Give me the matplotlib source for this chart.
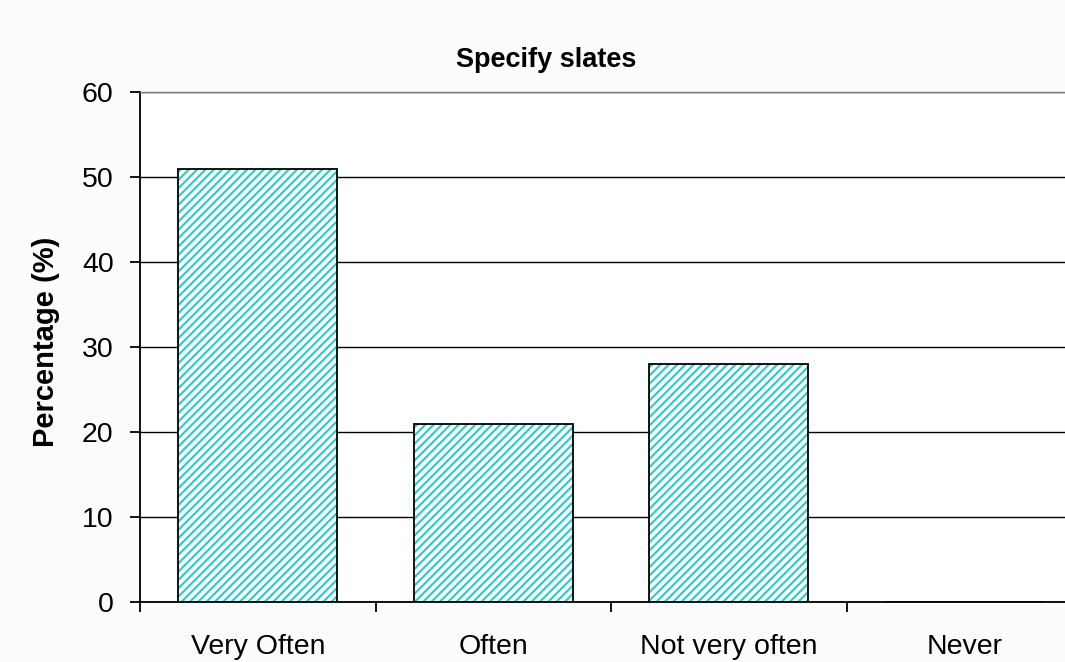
import matplotlib
matplotlib.use('Agg')
import matplotlib.pyplot as plt
import numpy as np

# survey answers and their share in percent
categories = ['Very Often', 'Often', 'Not very often', 'Never']
percentages = [51, 21, 28, 0]
y_ticks = [0, 10, 20, 30, 40, 50, 60]

plt.rcParams['font.family'] = ['Liberation Sans', 'DejaVu Sans']
plt.rcParams['hatch.linewidth'] = 1.6
plt.rcParams['hatch.color'] = '#33CCCC'

fig = plt.figure(figsize=(10.65, 6.62), dpi=100, facecolor='#fcfcfc')
ax = fig.add_axes([0.1315, 0.0906, 0.8845, 0.7704])
ax.set_facecolor('white')

x = np.arange(len(categories))
width = 0.675

# hatched fill first, then a plain black outline on top
ax.bar(x, percentages, width, color='white', hatch='////', linewidth=0, zorder=3)
ax.bar(x, percentages, width, fill=False, edgecolor='black', linewidth=1.3, zorder=4)

ax.set_xlim(-0.5, len(categories) - 0.5)
ax.set_ylim(0, 60)
ax.set_yticks(y_ticks)
ax.yaxis.grid(True, color='black', linewidth=1.0, zorder=0)
ax.set_axisbelow(True)

# tick marks sit between the categories, labels sit under the bars
ax.set_xticks(np.arange(len(categories) + 1) - 0.5)
ax.set_xticklabels([])
ax.set_xticks(x, minor=True)
ax.set_xticklabels(categories, minor=True)
ax.tick_params(axis='x', which='major', direction='out', length=7, width=1.3, color='black')
ax.tick_params(axis='x', which='minor', length=0, pad=23, labelsize=20.5)
ax.tick_params(axis='y', direction='out', length=7, width=1.3, pad=12, labelsize=20.5)

for side in ['left', 'bottom']:
    ax.spines[side].set_color('black')
    ax.spines[side].set_linewidth(1.3)
ax.spines['top'].set_color('#808080')
ax.spines['top'].set_linewidth(1.0)
ax.spines['right'].set_visible(False)

fig.text(0.513, 0.909, 'Specify slates', ha='center', va='center',
         fontsize=19.5, fontweight='bold')
fig.text(0.043, 0.483, 'Percentage (%)', ha='center', va='center',
         rotation=90, fontsize=21, fontweight='bold')

fig.savefig('out.png', dpi=100, facecolor=fig.get_facecolor())
